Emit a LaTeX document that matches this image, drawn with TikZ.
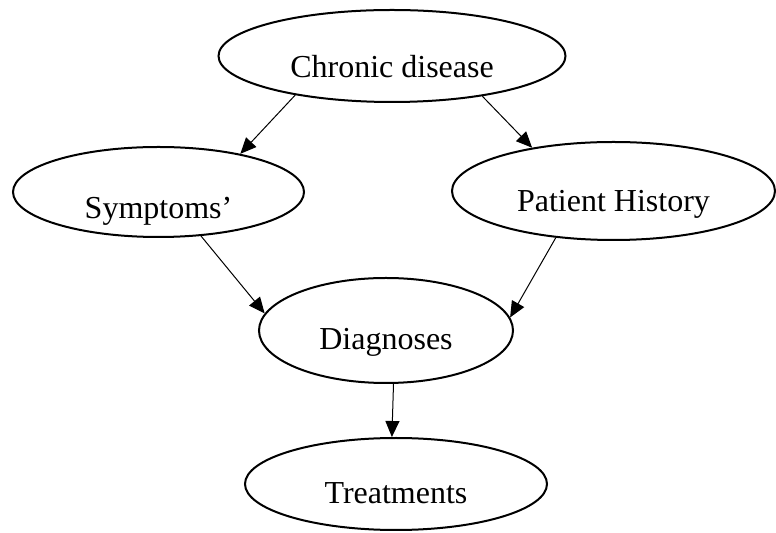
\documentclass[tikz,border=0pt]{standalone}
\usepackage{fontspec}
\setmainfont{Liberation Serif}
\usetikzlibrary{shapes.geometric,arrows.meta}
\tikzset{
    oval-node/.style = {draw=black, ellipse, line width=1pt, inner sep=0pt, text depth=0pt, font=\fontsize{16pt}{19pt}\selectfont},
    link-arrow/.style = {draw=black, line width=0.5pt, -{Triangle[length=8pt, width=7pt]}},
}
\begin{document}
\begin{tikzpicture}[x=0.5pt, y=-0.5pt]
\useasboundingbox (0,0) rectangle (776,533);
\node [oval-node, minimum width=173.5pt, minimum height=46pt, text height=21.3pt] (chronic) at (392,56) {Chronic disease};
\node [oval-node, minimum width=145.5pt, minimum height=45pt, text height=26.3pt] (symptoms) at (158.5,192) {Symptoms’};
\node [oval-node, minimum width=161.5pt, minimum height=49pt, text height=20.7pt] (history) at (613.5,191) {Patient History};
\node [oval-node, minimum width=127pt, minimum height=52.5pt, text height=18.8pt] (diagnoses) at (386,330.5) {Diagnoses};
\node [oval-node, minimum width=151pt, minimum height=46pt, text height=20pt] (treatments) at (396,484) {Treatments};

\draw [link-arrow] (chronic.202) -- (symptoms.25);
\draw [link-arrow] (chronic.336) -- (history.152);
\draw [link-arrow] (symptoms.314) -- (diagnoses.172);
\draw [link-arrow] (history.219) -- (diagnoses.6);
\draw [link-arrow] (diagnoses.278) -- (treatments.95);
\end{tikzpicture}
\end{document}
